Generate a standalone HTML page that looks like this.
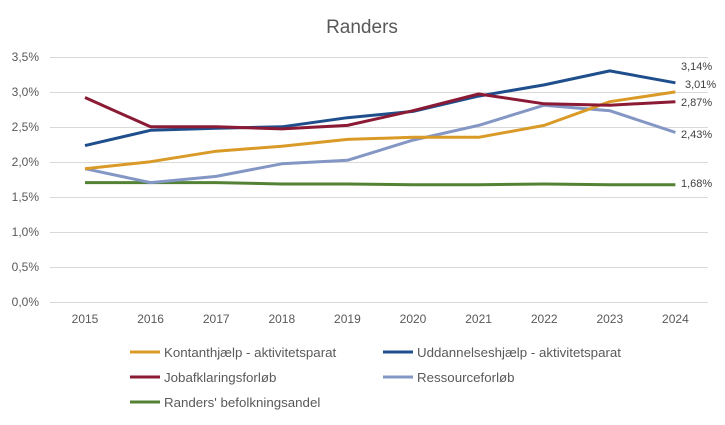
<!DOCTYPE html>
<html><head><meta charset="utf-8"><style>
html,body{margin:0;padding:0;background:#fff;}
svg{display:block;font-family:"Liberation Sans",sans-serif;}
</style></head><body>
<svg width="725" height="425" xmlns="http://www.w3.org/2000/svg">
<rect width="725" height="425" fill="#fff"/>
<text x="362" y="33" font-size="19" fill="#595959" text-anchor="middle">Randers</text>
<g stroke="#d9d9d9" stroke-width="1">
<line x1="50" x2="708" y1="57.5" y2="57.5"/><line x1="50" x2="708" y1="92.5" y2="92.5"/>
<line x1="50" x2="708" y1="127.5" y2="127.5"/><line x1="50" x2="708" y1="162.5" y2="162.5"/>
<line x1="50" x2="708" y1="197.5" y2="197.5"/><line x1="50" x2="708" y1="232.5" y2="232.5"/>
<line x1="50" x2="708" y1="267.5" y2="267.5"/><line x1="50" x2="708" y1="302.5" y2="302.5"/>
</g>
<g font-size="12" fill="#595959" text-anchor="end">
<text x="39" y="61">3,5%</text><text x="39" y="96">3,0%</text><text x="39" y="131">2,5%</text>
<text x="39" y="166">2,0%</text><text x="39" y="201">1,5%</text><text x="39" y="236">1,0%</text>
<text x="39" y="271">0,5%</text><text x="39" y="306">0,0%</text>
</g>
<g font-size="12" fill="#595959" text-anchor="middle">
<text x="85" y="323">2015</text><text x="150.6" y="323">2016</text><text x="216.2" y="323">2017</text>
<text x="281.8" y="323">2018</text><text x="347.4" y="323">2019</text><text x="413" y="323">2020</text>
<text x="478.6" y="323">2021</text><text x="544.2" y="323">2022</text><text x="609.8" y="323">2023</text>
<text x="675.4" y="323">2024</text>
</g>
<g fill="none" stroke-width="3" stroke-linejoin="round">
<polyline stroke="#548235" points="85,182.6 150.6,182.6 216.2,182.6 281.8,184 347.4,184 413,184.7 478.6,184.7 544.2,184 609.8,184.7 675.4,184.7"/>
<polyline stroke="#8497c4" points="85,168.7 150.6,182.6 216.2,176.4 281.8,163.8 347.4,160.3 413,140.1 478.6,125.4 544.2,105.2 609.8,110.7 675.4,132.4"/>
<polyline stroke="#d99a27" points="85,168.7 150.6,161.7 216.2,151.2 281.8,146.3 347.4,139.4 413,137.3 478.6,137.3 544.2,125.4 609.8,101.7 675.4,91.9"/>
<polyline stroke="#1f4e8c" points="85,145.6 150.6,130.3 216.2,128.2 281.8,126.8 347.4,117.7 413,111.4 478.6,96.1 544.2,84.9 609.8,70.9 675.4,82.8"/>
<polyline stroke="#8b1a35" points="85,97.5 150.6,126.8 216.2,126.8 281.8,128.9 347.4,125.4 413,110.7 478.6,94 544.2,103.8 609.8,105.2 675.4,101.7"/>
</g>
<g font-size="11" fill="#404040">
<text x="681" y="70">3,14%</text><text x="685" y="88">3,01%</text><text x="681" y="106">2,87%</text>
<text x="681" y="138">2,43%</text><text x="681" y="187">1,68%</text>
</g>
<g stroke-width="3">
<line x1="130" x2="160" y1="352" y2="352" stroke="#d99a27"/>
<line x1="383" x2="413" y1="352" y2="352" stroke="#1f4e8c"/>
<line x1="130" x2="160" y1="377" y2="377" stroke="#8b1a35"/>
<line x1="383" x2="413" y1="377" y2="377" stroke="#8497c4"/>
<line x1="130" x2="160" y1="402" y2="402" stroke="#548235"/>
</g>
<g font-size="13.3" fill="#595959">
<text x="164" y="357">Kontanthjælp - aktivitetsparat</text>
<text x="417" y="357">Uddannelseshjælp - aktivitetsparat</text>
<text x="164" y="382">Jobafklaringsforløb</text>
<text x="417" y="382">Ressourceforløb</text>
<text x="164" y="407">Randers' befolkningsandel</text>
</g>
</svg>
</body></html>
